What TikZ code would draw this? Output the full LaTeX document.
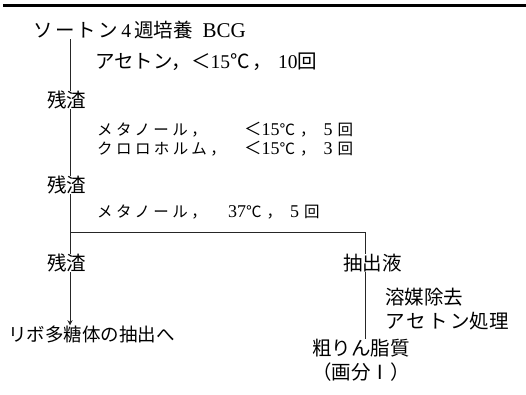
\documentclass[tikz,border=0pt]{standalone}
\usepackage{fontspec}
\setmainfont{Liberation Serif}
\newfontfamily\cjk{Noto Sans CJK JP}
\newfontfamily\cjks[LetterSpace=12]{Noto Sans CJK JP}
\newfontfamily\cjkw[LetterSpace=22]{Noto Sans CJK JP}
\newcommand\dg[1]{{\fontsize{18}{19}\selectfont #1}}
\usetikzlibrary{arrows.meta}
\begin{document}
\begin{tikzpicture}[x=1pt,y=-1pt,
  lbl/.style={anchor=west,inner sep=0pt,font=\fontsize{19.5}{24}\selectfont},
  sml/.style={lbl,font=\fontsize{15.5}{19.5}\selectfont},
  flow/.style={line width=0.7pt,black!85}]
\path[use as bounding box] (0,0) rectangle (526,395);
\draw[line width=3pt] (3,6) -- (526,6);
\node[lbl] (t) at (33,30) {{\cjks ソートン}\,4\,{\cjk 週培養}\enspace{\fontsize{21}{24}\selectfont BCG}};
\node[lbl] (s1) at (95,62) {\makebox[96pt][l]{\cjk アセトン，}{\cjk ＜}15{\cjk ℃}\hspace{3pt}{\cjk ，}\hspace{6pt}10{\cjk 回}};
\node[lbl] (r1) at (47,100) {\cjk 残渣};
\node[sml,align=left] (s2) at (97,139) {\makebox[147pt][l]{\cjkw メタノール，}{\cjk\fontsize{17.5}{19}\selectfont ＜}\dg{15}{\cjk ℃}\hspace{5pt}{\cjk ，}\hspace{8pt}\dg{5}\hspace{5pt}{\cjk 回}\\
  \makebox[147pt][l]{\cjkw クロロホルム，}{\cjk\fontsize{17.5}{19}\selectfont ＜}\dg{15}{\cjk ℃}\hspace{5pt}{\cjk ，}\hspace{8pt}\dg{3}\hspace{5pt}{\cjk 回}};
\node[lbl] (r2) at (47,185) {\cjk 残渣};
\node[sml] (s4) at (97,212) {\makebox[131pt][l]{\cjkw メタノール，}\dg{37}{\cjk ℃}\hspace{5pt}{\cjk ，}\hspace{8pt}\dg{5}\hspace{5pt}{\cjk 回}};
\node[lbl] (r3) at (47,263) {\cjk 残渣};
\node[lbl] (e) at (343,263) {\cjk 抽出液};
\node[lbl,align=left] (p) at (385,309) {\cjk 溶媒除去\\\cjks アセトン{\cjk 処理}};
\node[lbl,align=center,anchor=center] (c) at (361,360) {\cjk 粗りん脂質\\\cjk （画分Ⅰ）};
\node[lbl,font=\fontsize{18.5}{22}\selectfont] (l) at (8,334) {\cjk リボ多糖体の抽出へ};
\coordinate (m) at (70,0);
\coordinate (b) at (365,232);
\draw[flow] (m |- t.south) -- (m |- r1.north);
\draw[flow] (m |- r1.south) -- (m |- r2.north);
\draw[flow] (m |- r2.south) -- (m |- r3.north);
\draw[flow,-{Stealth[length=5pt,width=5pt]}] (m |- r3.south) -- (m |- l.north);
\draw[flow] (m |- b) -- (b) -- (b |- e.north);
\draw[flow] (b |- e.south) -- (b |- c.north);
\end{tikzpicture}
\end{document}
